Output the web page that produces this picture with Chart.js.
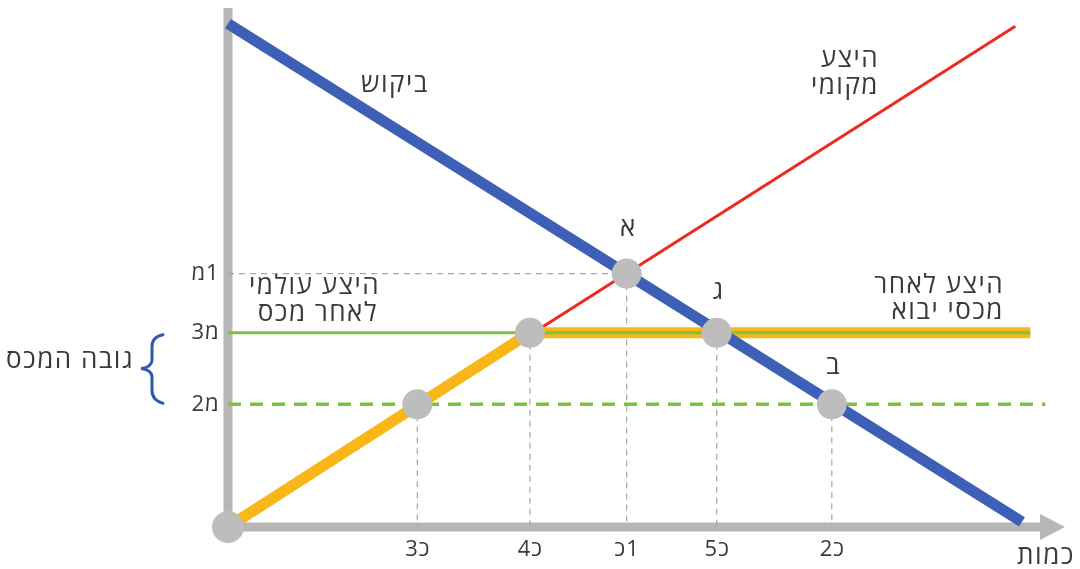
<!DOCTYPE html>
<html lang="he">
<head>
<meta charset="utf-8">
<script src="https://cdn.jsdelivr.net/npm/chart.js@4/dist/chart.umd.min.js"></script>
<style>
html,body{margin:0;padding:0;background:#fff;}
#c{display:block;}
</style>
</head>
<body>
<canvas id="c" width="1080" height="569"></canvas>
<script>
// ---- data (units: quantity on x, price on y) ----
const demandLine = [{x:0,y:98.5},{x:95.2,y:1}];
const localSupply = [{x:0,y:0},{x:94.4,y:98}];
const supplyAfterTariff = [{x:0,y:0},{x:36.2,y:38},{x:96.2,y:38}];
const worldSupplyAfterTax = [{x:0,y:38},{x:96.2,y:38}];
const worldSupply = [{x:0,y:24},{x:98,y:24}];
const keyPoints = [{x:0,y:0},{x:22.7,y:24},{x:36.2,y:38},{x:47.8,y:49.6},{x:58.6,y:38},{x:72.4,y:24}];
const pointNames = [null,null,null,'א','ג','ב'];
const xTickValues = [22.7,36.2,47.8,58.6,72.4];
const xTickLabels = ['כ3','כ4','כ1','כ5','כ2'];
const yTickValues = [49.6,38,24];
const yTickLabels = ['מ1','מ3','מ2'];
const xAxisTitle = 'כמות';
const tariffLabel = 'גובה המכס';

// guide lines built from the key points
const guides = [];
guides.push([{x:0,y:keyPoints[3].y},{x:keyPoints[3].x,y:keyPoints[3].y}]);
[1,2,3,4,5].forEach(i=>guides.push([{x:keyPoints[i].x,y:keyPoints[i].y},{x:keyPoints[i].x,y:0}]));

const FONT = '"Open Sans","DejaVu Sans",sans-serif';
const TXT = '#3a3a3a';

function lineDs(data,color,width,order,dash){
  return {data, showLine:true, borderColor:color, borderWidth:width, pointRadius:0,
    borderDash:dash||[], order, clip:false, fill:false, tension:0, borderJoinStyle:'round'};
}
const datasets = [];
guides.forEach(g=>datasets.push(lineDs(g,'#a6a6a6',1.2,10,[6,5])));
datasets.push(lineDs(localSupply,'#ec2a1f',3,8));
datasets.push(lineDs(supplyAfterTariff,'#f8b619',11,7));
datasets.push(lineDs(worldSupplyAfterTax,'#7cc242',3,6));
datasets.push(lineDs(worldSupply,'#7cc242',3.5,6,[13,9]));
datasets.push(lineDs(demandLine,'#3d5fb5',11,5));
datasets.push({data:keyPoints, showLine:false, pointRadius:keyPoints.map((p,i)=>i===0?16:15),
  pointBackgroundColor:'#bdbdbd', pointBorderWidth:0, order:1, clip:false});

function drawTick(ctx,label,x,y){
  const letter=label[0], digit=label.slice(1);
  const lw=ctx.measureText(letter).width, dw=ctx.measureText(digit).width;
  const total=lw+dw+1;
  let left=x-total/2;
  ctx.textAlign='left';
  if(digit==='1'){ ctx.fillText(letter,left,y); ctx.fillText(digit,left+lw+1,y); }
  else { ctx.fillText(digit,left,y); ctx.fillText(letter,left+dw+1,y); }
}

const decor = {
  id:'decor',
  beforeDatasetsDraw(chart){
    const ctx=chart.ctx, xs=chart.scales.x, ys=chart.scales.y;
    const x0=xs.getPixelForValue(0), y0=ys.getPixelForValue(0);
    ctx.save();
    ctx.strokeStyle='#b6b6b6'; ctx.fillStyle='#b6b6b6'; ctx.lineWidth=9; ctx.lineCap='butt';
    ctx.beginPath(); ctx.moveTo(x0,8); ctx.lineTo(x0,y0+4); ctx.stroke();
    ctx.beginPath(); ctx.moveTo(x0-4,y0); ctx.lineTo(1042,y0); ctx.stroke();
    ctx.beginPath(); ctx.moveTo(1040,y0-13); ctx.lineTo(1065,y0); ctx.lineTo(1040,y0+13); ctx.closePath(); ctx.fill();
    ctx.restore();
  },
  afterDatasetsDraw(chart){
    const ctx=chart.ctx, xs=chart.scales.x, ys=chart.scales.y;
    ctx.save();
    ctx.fillStyle=TXT; ctx.textBaseline='middle';
    ctx.direction='rtl';
    ctx.font='22px '+FONT;
    // tick labels
    xTickValues.forEach((v,i)=>drawTick(ctx,xTickLabels[i],xs.getPixelForValue(v),550));
    yTickValues.forEach((v,i)=>drawTick(ctx,yTickLabels[i],205,ys.getPixelForValue(v)));
    ctx.letterSpacing='1.5px';
    ctx.font='26px '+FONT;
    ctx.textAlign='center';
    ctx.fillText(xAxisTitle,1046,557);
    // point names (label sits above each point, closer for lower points)
    ctx.letterSpacing='0px';
    ctx.font='26px '+FONT;
    keyPoints.forEach((p,i)=>{
      if(!pointNames[i]) return;
      const py=ys.getPixelForValue(p.y);
      const off = 38 + (py-403)*(-7/133);
      ctx.fillText(pointNames[i],xs.getPixelForValue(p.x)+1,py-off);
    });
    // curve labels
    ctx.letterSpacing='1.5px';
    ctx.font='26px '+FONT;
    ctx.textAlign='center';
    ctx.fillText('ביקוש',395,85);
    ctx.textAlign='right';
    ctx.fillText('היצע',879,60);
    ctx.fillText('מקומי',879,87);
    ctx.fillText('היצע עולמי',380,287);
    ctx.fillText('לאחר מכס',378,314);
    ctx.fillText('היצע לאחר',1004,286);
    ctx.fillText('מכסי יבוא',1004,312);
    ctx.textAlign='center';
    ctx.fillText(tariffLabel,70,361);
    // brace
    const ya=ys.getPixelForValue(38), yb=ys.getPixelForValue(24), ym=(ya+yb)/2;
    ctx.strokeStyle='#2f5aa9'; ctx.lineWidth=3; ctx.lineCap='round';
    ctx.beginPath();
    ctx.moveTo(163,ya+2);
    ctx.quadraticCurveTo(152,ya+4,152,ya+14);
    ctx.lineTo(152,ym-8);
    ctx.quadraticCurveTo(151,ym-1,141,ym);
    ctx.quadraticCurveTo(151,ym+1,152,ym+8);
    ctx.lineTo(152,yb-14);
    ctx.quadraticCurveTo(152,yb-4,163,yb-1);
    ctx.stroke();
    ctx.restore();
  }
};

new Chart(document.getElementById('c'),{
  type:'scatter',
  data:{datasets},
  options:{
    responsive:false, animation:false, devicePixelRatio:1,
    layout:{padding:{left:228,right:18,top:12,bottom:42}},
    scales:{
      x:{type:'linear',min:0,max:100,display:false},
      y:{type:'linear',min:0,max:100,display:false}
    },
    plugins:{legend:{display:false},tooltip:{enabled:false}},
    events:[]
  },
  plugins:[decor]
});
</script>
</body>
</html>
